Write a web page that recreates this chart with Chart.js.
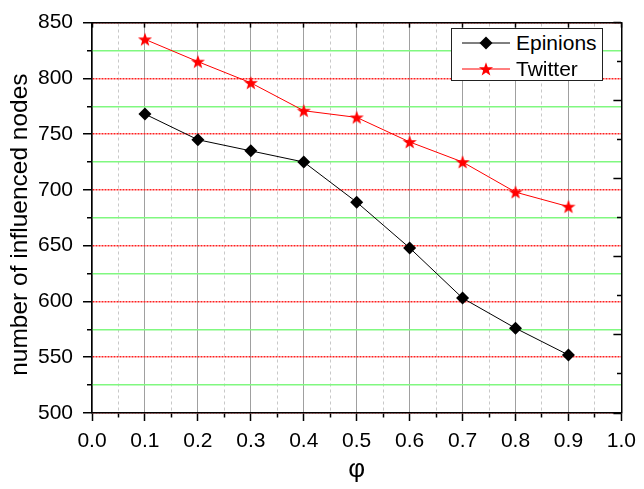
<!DOCTYPE html>
<html><head><meta charset="utf-8">
<script src="https://cdn.jsdelivr.net/npm/chart.js@4/dist/chart.umd.min.js"></script>
<style>
html,body{margin:0;padding:0;background:#fff;}
#wrap{position:relative;width:644px;height:489px;}
#legend{position:absolute;left:451px;top:28px;width:152px;height:53px;border:1.5px solid #222;background:#fff;box-sizing:border-box;font-family:'Liberation Sans',Arial,sans-serif;font-size:21px;color:#000;}
#legend .row{position:absolute;left:0;height:26px;width:100%;}
#legend svg{position:absolute;left:10px;top:5px;}
#legend span{position:absolute;left:64px;top:0;line-height:26px;white-space:nowrap;}
</style></head>
<body>
<div id="wrap">
<canvas id="c" width="644" height="489"></canvas>
<div id="legend"></div>
</div>
<script>
// ---- data ----
const phi = [0.1, 0.2, 0.3, 0.4, 0.5, 0.6, 0.7, 0.8, 0.9];
const epinions = [768, 745, 735, 725, 689, 648, 603, 576, 552];
const twitter = [835, 815, 796, 771, 765, 743, 725, 698, 685];
const seriesNames = ['Epinions', 'Twitter'];
const xTickLabels = ['0.0','0.1','0.2','0.3','0.4','0.5','0.6','0.7','0.8','0.9','1.0'];
const yTickLabels = ['500','550','600','650','700','750','800','850'];
const xTitle = 'φ';
const yTitle = 'number of influenced nodes';

const xMin = parseFloat(xTickLabels[0]), xMax = parseFloat(xTickLabels[xTickLabels.length-1]);
const yMin = parseFloat(yTickLabels[0]), yMax = parseFloat(yTickLabels[yTickLabels.length-1]);

// star point image
function starPath(ctx, cx, cy, ro, ri) {
  ctx.beginPath();
  for (let i = 0; i < 10; i++) {
    const r = i % 2 === 0 ? ro : ri;
    const a = -Math.PI / 2 + i * Math.PI / 5;
    const px = cx + r * Math.cos(a), py = cy + r * Math.sin(a);
    if (i === 0) ctx.moveTo(px, py); else ctx.lineTo(px, py);
  }
  ctx.closePath();
}
const starImg = document.createElement('canvas');
starImg.width = 16; starImg.height = 16;
{
  const sc = starImg.getContext('2d');
  sc.fillStyle = '#ff0000';
  starPath(sc, 8, 8.6, 7.4, 3.0);
  sc.fill();
}

const FONT = "'Liberation Sans', Arial, sans-serif";
const transparent = 'rgba(0,0,0,0)';

const ds = [
  { label: seriesNames[0], data: phi.map((x, i) => ({x, y: epinions[i]})),
    borderColor: '#000', backgroundColor: '#000', borderWidth: 1,
    pointStyle: 'rectRot', pointRadius: 6.5, pointHoverRadius: 6.5, pointBorderWidth: 0 },
  { label: seriesNames[1], data: phi.map((x, i) => ({x, y: twitter[i]})),
    borderColor: '#ff0000', backgroundColor: '#ff0000', borderWidth: 1,
    pointStyle: starImg, pointRadius: 7 }
];

new Chart(document.getElementById('c'), {
  type: 'line',
  data: { datasets: ds },
  options: {
    responsive: false, animation: false,
    layout: { padding: { top: 15, right: 16, left: 0, bottom: 0 } },
    plugins: { legend: { display: false }, tooltip: { enabled: false } },
    scales: {
      x: {
        type: 'linear', position: 'bottom', min: xMin, max: xMax,
        ticks: { stepSize: 0.05, autoSkip: false, maxRotation: 0, padding: 8, color: '#000',
          font: { family: FONT, size: 21 },
          callback: (v, i) => i % 2 === 0 ? xTickLabels[i / 2] : '' },
        grid: { color: c => c.index % 2 === 0 ? '#a0a0a0' : transparent, lineWidth: 1,
          tickColor: '#000', tickLength: 8, tickWidth: 1.5,
          tickBorderDash: c => c.index % 2 === 0 ? [] : [4, 100] },
        border: { color: '#000', width: 1.5 },
        title: { display: true, text: xTitle, color: '#000', font: { family: FONT, size: 26 }, padding: { top: 0, bottom: 4 } },
        afterFit: s => { s.height = 76; }
      },
      x2: {
        type: 'linear', position: 'top', min: xMin, max: xMax,
        ticks: { display: false, stepSize: 0.05, autoSkip: false },
        grid: { drawTicks: false, color: c => c.index % 2 === 1 ? '#c8c8c8' : transparent, lineWidth: 1 },
        border: { color: '#000', width: 1.5, dash: [3, 3] },
        afterFit: s => { s.height = 0; }
      },
      x3: {
        type: 'linear', position: 'top', min: xMin, max: xMax,
        ticks: { display: false, stepSize: 0.1, autoSkip: false },
        grid: { drawOnChartArea: false, tickLength: -5, tickColor: '#000', tickWidth: 1.5 },
        border: { display: false },
        afterFit: s => { s.height = 0; }
      },
      y: {
        type: 'linear', position: 'left', min: yMin, max: yMax,
        ticks: { stepSize: 25, autoSkip: false, padding: 10, color: '#000',
          font: { family: FONT, size: 21 },
          callback: (v, i) => i % 2 === 0 ? yTickLabels[i / 2] : '' },
        grid: { color: c => c.index % 2 === 0 ? '#ff2020' : transparent, lineWidth: 1.5,
          tickColor: '#000', tickLength: 9, tickWidth: 1.5,
          tickBorderDash: c => c.index % 2 === 0 ? [] : [5, 4],
          tickBorderDashOffset: c => c.index % 2 === 0 ? 0 : 5 },
        border: { color: '#000', width: 1.5, dash: [2, 1] },
        title: { display: true, text: yTitle + '  ', color: '#000', font: { family: FONT, size: 24.5 }, padding: { top: 6, bottom: 0 } },
        afterFit: s => { s.width = 92; }
      },
      y2: {
        type: 'linear', position: 'right', min: yMin, max: yMax,
        ticks: { display: false, stepSize: 25, autoSkip: false },
        grid: { drawTicks: false, color: c => c.index % 2 === 1 ? '#80f880' : transparent, lineWidth: 1.5 },
        border: { color: '#000', width: 1.5 },
        afterFit: s => { s.width = 0; }
      },
      y3: {
        type: 'linear', position: 'right', min: 0, max: 10,
        ticks: { display: false, stepSize: 1, autoSkip: false },
        grid: { drawOnChartArea: false, tickLength: -8, tickColor: '#000', tickWidth: 1.5,
          tickBorderDash: c => c.index % 2 === 0 ? [] : [4, 100] },
        border: { display: false },
        afterFit: s => { s.width = 0; }
      }
    }
  }
});

// legend (HTML)
const legendDefs = [
  { name: seriesNames[0], color: '#000', marker: 'diamond' },
  { name: seriesNames[1], color: '#ff0000', marker: 'star' }
];
const lg = document.getElementById('legend');
legendDefs.forEach((d, k) => {
  const row = document.createElement('div');
  row.className = 'row';
  row.style.top = (k === 0 ? 0.5 : 26.5) + 'px';
  let mk;
  if (d.marker === 'diamond') {
    mk = '<polygon points="24,1.5 30.5,8 24,14.5 17.5,8" fill="#000"/>';
  } else {
    const pts = [];
    for (let i = 0; i < 10; i++) {
      const r = i % 2 === 0 ? 7.4 : 3.0;
      const a = -Math.PI / 2 + i * Math.PI / 5;
      pts.push((24 + r * Math.cos(a)).toFixed(2) + ',' + (8.6 + r * Math.sin(a)).toFixed(2));
    }
    mk = '<polygon points="' + pts.join(' ') + '" fill="#ff0000"/>';
  }
  row.innerHTML = '<svg width="48" height="16" viewBox="0 0 48 16"><line x1="0" y1="8" x2="48" y2="8" stroke="' + d.color + '" stroke-width="1"/>' + mk + '</svg><span>' + d.name + '</span>';
  lg.appendChild(row);
});
</script>
</body></html>
